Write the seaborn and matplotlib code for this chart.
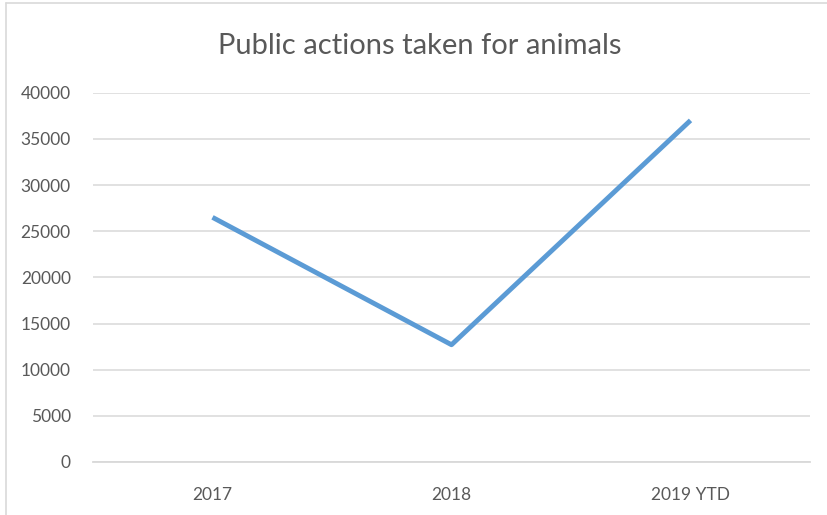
import matplotlib
matplotlib.use("Agg")
import matplotlib.pyplot as plt
import seaborn as sns
import pandas as pd
from matplotlib.lines import Line2D

categories = ["2017", "2018", "2019 YTD"]
values = [26500, 12700, 37000]
yticks = [0, 5000, 10000, 15000, 20000, 25000, 30000, 35000, 40000]

sns.set_theme(style="white")
plt.rcParams['font.family'] = ['Lato', 'DejaVu Sans']

df = pd.DataFrame({"cat": categories, "val": values})

fig = plt.figure(figsize=(8.27, 5.15), dpi=100)
ax = fig.add_axes([93/827, 1 - 462/515, (810 - 93)/827, (462 - 92.7)/515])

sns.lineplot(data=df, x="cat", y="val", ax=ax, color="#5b9bd5", linewidth=3.5,
             sort=False, solid_capstyle="butt")

ax.set_xlim(-0.5, 2.5)
ax.set_ylim(0, 40000)
ax.set_yticks(yticks)
ax.set_yticklabels([str(v) for v in yticks])
ax.set_xlabel("")
ax.set_ylabel("")
ax.grid(axis="y", color="#d9d9d9", linewidth=1.1)
ax.set_axisbelow(True)
for s in ["top", "right", "left"]:
    ax.spines[s].set_visible(False)
ax.spines["bottom"].set_color("#d9d9d9")
ax.spines["bottom"].set_linewidth(1.3)
ax.tick_params(axis="both", length=0, colors="#595959", labelsize=12.5)
ax.tick_params(axis="y", pad=16)
ax.tick_params(axis="x", pad=18)

fig.text(420/827, 1 - 46/515, "Public actions taken for animals", ha="center", va="center",
         fontsize=21, color="#595959", fontweight="normal")

# chart border (left and top edges visible)
fig.add_artist(Line2D([5.5/827, 5.5/827], [0, 1 - 3/515], transform=fig.transFigure,
                      color="#d9d9d9", linewidth=1.2))
fig.add_artist(Line2D([5.5/827, 1], [1 - 3/515, 1 - 3/515], transform=fig.transFigure,
                      color="#d9d9d9", linewidth=1.2))

fig.savefig("out.png", dpi=100)
